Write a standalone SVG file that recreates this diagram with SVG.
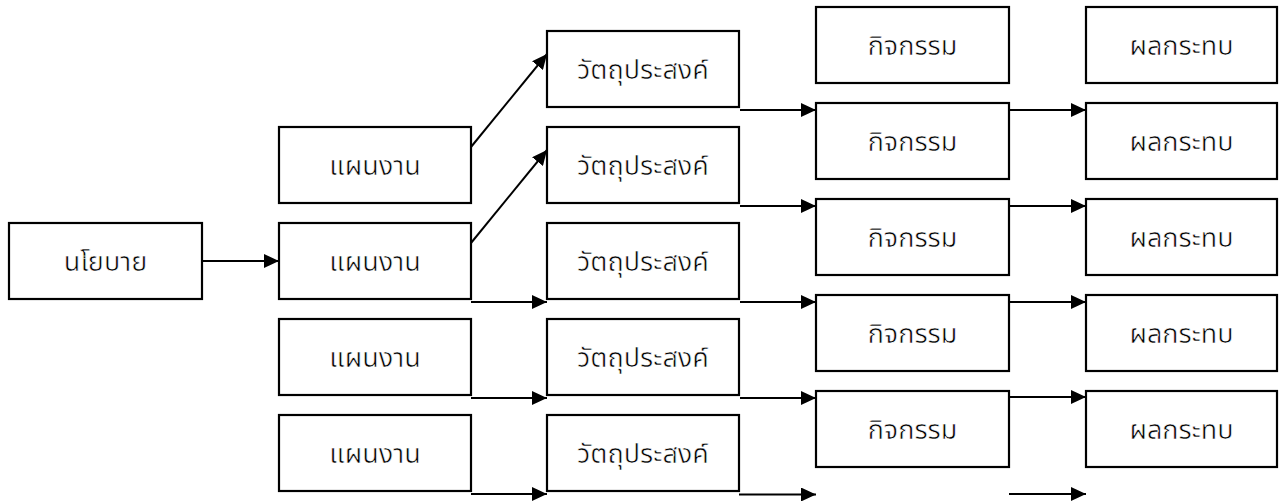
<svg xmlns="http://www.w3.org/2000/svg" width="1279" height="501" viewBox="0 0 1279 501">
<defs>
<marker id="ah" viewBox="0 0 15 14" refX="15" refY="7" markerWidth="15" markerHeight="14" markerUnits="userSpaceOnUse" orient="auto">
<path d="M0,0 L15,7 L0,14 Z" fill="#000"/>
</marker>
<style>
.box{fill:#fff;stroke:#000;stroke-width:2.2}
.t{font-family:"Noto Sans Thai","Noto Sans","DejaVu Sans",sans-serif;font-size:27px;text-anchor:middle;fill:#000;stroke:#fff;stroke-width:0.6px}
.c{stroke:#000;stroke-width:2;fill:none;marker-end:url(#ah)}
</style>
</defs>
<rect width="1279" height="501" fill="#fff"/>
<g id="policy"><rect class="box" x="9" y="223" width="193" height="76"/><text class="t" x="105.5" y="271">นโยบาย</text></g>
<g id="plan1"><rect class="box" x="279" y="127" width="192" height="76"/><text class="t" x="375" y="175">แผนงาน</text></g>
<g id="plan2"><rect class="box" x="279" y="223" width="192" height="76"/><text class="t" x="375" y="271">แผนงาน</text></g>
<g id="plan3"><rect class="box" x="279" y="319" width="192" height="76"/><text class="t" x="375" y="367">แผนงาน</text></g>
<g id="plan4"><rect class="box" x="279" y="415" width="192" height="76"/><text class="t" x="375" y="463">แผนงาน</text></g>
<g id="obj1"><rect class="box" x="547" y="31" width="192" height="76"/><text class="t" x="643" y="79">วัตถุประสงค์</text></g>
<g id="obj2"><rect class="box" x="547" y="127" width="192" height="76"/><text class="t" x="643" y="175">วัตถุประสงค์</text></g>
<g id="obj3"><rect class="box" x="547" y="223" width="192" height="76"/><text class="t" x="643" y="271">วัตถุประสงค์</text></g>
<g id="obj4"><rect class="box" x="547" y="319" width="192" height="76"/><text class="t" x="643" y="367">วัตถุประสงค์</text></g>
<g id="obj5"><rect class="box" x="547" y="415" width="192" height="76"/><text class="t" x="643" y="463">วัตถุประสงค์</text></g>
<g id="act1"><rect class="box" x="816" y="7" width="193" height="76"/><text class="t" x="912.5" y="55">กิจกรรม</text></g>
<g id="act2"><rect class="box" x="816" y="103" width="193" height="76"/><text class="t" x="912.5" y="151">กิจกรรม</text></g>
<g id="act3"><rect class="box" x="816" y="199" width="193" height="76"/><text class="t" x="912.5" y="247">กิจกรรม</text></g>
<g id="act4"><rect class="box" x="816" y="295" width="193" height="76"/><text class="t" x="912.5" y="343">กิจกรรม</text></g>
<g id="act5"><rect class="box" x="816" y="391" width="193" height="76"/><text class="t" x="912.5" y="439">กิจกรรม</text></g>
<g id="imp1"><rect class="box" x="1086" y="7" width="191" height="76"/><text class="t" x="1181.5" y="55">ผลกระทบ</text></g>
<g id="imp2"><rect class="box" x="1086" y="103" width="191" height="76"/><text class="t" x="1181.5" y="151">ผลกระทบ</text></g>
<g id="imp3"><rect class="box" x="1086" y="199" width="191" height="76"/><text class="t" x="1181.5" y="247">ผลกระทบ</text></g>
<g id="imp4"><rect class="box" x="1086" y="295" width="191" height="76"/><text class="t" x="1181.5" y="343">ผลกระทบ</text></g>
<g id="imp5"><rect class="box" x="1086" y="391" width="191" height="76"/><text class="t" x="1181.5" y="439">ผลกระทบ</text></g>
<g id="connectors">
<path class="c" d="M202,261 H279"/>
<path class="c" d="M471,147 L547,54"/>
<path class="c" d="M471,243 L547,150"/>
<path class="c" d="M471,302 H547"/>
<path class="c" d="M471,398 H547"/>
<path class="c" d="M471,494 H547"/>
<path class="c" d="M740,110 H816"/>
<path class="c" d="M740,206 H816"/>
<path class="c" d="M740,302 H816"/>
<path class="c" d="M740,398 H816"/>
<path class="c" d="M1009,110 H1086"/>
<path class="c" d="M1009,206 H1086"/>
<path class="c" d="M1009,302 H1086"/>
<path class="c" d="M1009,397 H1086"/>
<path class="c" d="M1009,494 H1086"/>
<path class="c" d="M739,494.5 L816,494.5"/>
</g>
</svg>
